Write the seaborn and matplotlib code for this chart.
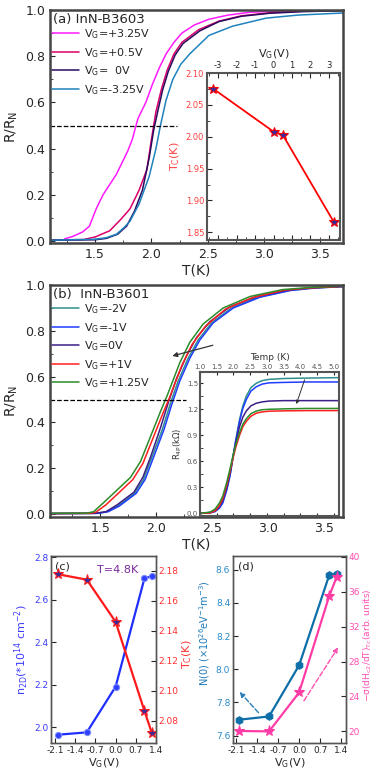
import matplotlib
matplotlib.use('Agg')
import matplotlib.pyplot as plt
import seaborn as sns
from matplotlib.ticker import MultipleLocator

sns.set_style('ticks')
plt.rcParams['font.family'] = ['DejaVu Sans']
plt.rcParams['mathtext.default'] = 'regular'
plt.rcParams['axes.unicode_minus'] = False

# ---- panel (a) InN-B3603, R/RN vs T
a_labels = ['V$_G$=+3.25V', 'V$_G$=+0.5V', 'V$_G$=  0V', 'V$_G$=-3.25V']
a_colors = ['#ff1aff', '#d8006a', '#2a0a5e', '#1f82bd']
a_T = [
    [1.23, 1.30, 1.39, 1.45, 1.51, 1.57, 1.69, 1.79, 1.83, 1.88, 1.95, 2.01, 2.07, 2.13, 2.20, 2.27, 2.38, 2.51, 2.68, 2.87, 3.10, 3.40, 3.70],
    [1.10, 1.40, 1.50, 1.63, 1.73, 1.81, 1.89, 1.96, 2.00, 2.04, 2.09, 2.14, 2.20, 2.27, 2.42, 2.60, 2.80, 3.05, 3.35, 3.70],
    [1.10, 1.50, 1.60, 1.70, 1.78, 1.85, 1.92, 1.98, 2.02, 2.06, 2.10, 2.15, 2.21, 2.28, 2.43, 2.60, 2.80, 3.05, 3.35, 3.70],
    [1.10, 1.50, 1.60, 1.69, 1.76, 1.81, 1.89, 1.98, 2.04, 2.08, 2.13, 2.19, 2.26, 2.34, 2.51, 2.72, 3.02, 3.30, 3.70],
]
a_R = [
    [0.01, 0.02, 0.04, 0.065, 0.14, 0.20, 0.29, 0.39, 0.44, 0.53, 0.60, 0.68, 0.75, 0.81, 0.86, 0.90, 0.935, 0.96, 0.978, 0.99, 0.995, 0.998, 1.0],
    [0.005, 0.007, 0.018, 0.045, 0.095, 0.14, 0.22, 0.31, 0.44, 0.56, 0.66, 0.74, 0.81, 0.86, 0.915, 0.952, 0.975, 0.988, 0.995, 0.998],
    [0.004, 0.006, 0.012, 0.03, 0.065, 0.13, 0.22, 0.36, 0.48, 0.57, 0.655, 0.735, 0.805, 0.855, 0.91, 0.95, 0.973, 0.986, 0.993, 0.997],
    [0.004, 0.008, 0.015, 0.03, 0.06, 0.087, 0.16, 0.28, 0.40, 0.50, 0.61, 0.70, 0.765, 0.81, 0.89, 0.93, 0.965, 0.978, 0.987],
]
# inset (a): Tc vs VG
ia_vg = [-3.25, 0.0, 0.5, 3.25]
ia_tc = [2.075, 2.008, 2.003, 1.867]

# ---- panel (b) InN-B3601
b_labels = ['V$_G$=-2V', 'V$_G$=-1V', 'V$_G$=0V', 'V$_G$=+1V', 'V$_G$=+1.25V']
b_colors = ['#2f8f8f', '#1f3cff', '#3d1f86', '#ff1f1f', '#2a8c2a']
b_T = [
    [1.05, 1.465, 1.555, 1.655, 1.805, 1.885, 1.955, 2.055, 2.125, 2.195, 2.285, 2.375, 2.495, 2.675, 2.915, 3.185, 3.405, 3.67],
    [1.05, 1.48, 1.57, 1.67, 1.82, 1.90, 1.97, 2.07, 2.14, 2.21, 2.30, 2.39, 2.51, 2.69, 2.93, 3.20, 3.42, 3.67],
    [1.05, 1.45, 1.55, 1.65, 1.80, 1.88, 1.95, 2.04, 2.11, 2.18, 2.27, 2.36, 2.48, 2.66, 2.90, 3.18, 3.40, 3.67],
    [1.05, 1.40, 1.46, 1.55, 1.67, 1.79, 1.88, 1.97, 2.06, 2.12, 2.23, 2.32, 2.44, 2.62, 2.86, 3.15, 3.40, 3.67],
    [1.05, 1.38, 1.44, 1.53, 1.65, 1.77, 1.86, 1.95, 2.04, 2.10, 2.21, 2.30, 2.42, 2.60, 2.84, 3.13, 3.40, 3.67],
]
b_R = [
    [0.002, 0.003, 0.01, 0.035, 0.09, 0.15, 0.24, 0.37, 0.48, 0.58, 0.68, 0.76, 0.835, 0.90, 0.947, 0.976, 0.987, 0.993],
    [0.002, 0.003, 0.01, 0.035, 0.09, 0.15, 0.24, 0.37, 0.48, 0.58, 0.68, 0.76, 0.835, 0.90, 0.947, 0.976, 0.987, 0.993],
    [0.002, 0.003, 0.01, 0.04, 0.095, 0.16, 0.25, 0.38, 0.49, 0.59, 0.69, 0.77, 0.84, 0.905, 0.95, 0.978, 0.988, 0.994],
    [0.002, 0.003, 0.008, 0.04, 0.095, 0.15, 0.22, 0.33, 0.44, 0.51, 0.65, 0.74, 0.82, 0.895, 0.945, 0.978, 0.988, 0.994],
    [0.003, 0.004, 0.01, 0.05, 0.105, 0.16, 0.23, 0.34, 0.45, 0.52, 0.66, 0.75, 0.83, 0.90, 0.95, 0.98, 0.99, 0.995],
]
# inset (b): R4P vs Temp
ib_T = [1.0, 1.30, 1.45, 1.58, 1.68, 1.80, 1.90, 1.97, 2.06, 2.18, 2.28, 2.38, 2.52, 2.68, 2.85, 3.06, 3.5, 4.2, 5.15]
ib_R = [
    [0.0, 0.01, 0.03, 0.07, 0.13, 0.28, 0.45, 0.62, 0.83, 1.08, 1.24, 1.35, 1.45, 1.50, 1.53, 1.545, 1.555, 1.56, 1.565],
    [0.0, 0.005, 0.02, 0.06, 0.12, 0.27, 0.44, 0.61, 0.82, 1.06, 1.21, 1.31, 1.41, 1.46, 1.49, 1.505, 1.51, 1.515, 1.515],
    [0.0, 0.01, 0.03, 0.08, 0.15, 0.30, 0.47, 0.62, 0.80, 1.00, 1.11, 1.18, 1.24, 1.27, 1.285, 1.295, 1.30, 1.30, 1.30],
    [0.0, 0.005, 0.03, 0.09, 0.17, 0.33, 0.49, 0.61, 0.75, 0.90, 1.00, 1.06, 1.12, 1.155, 1.17, 1.178, 1.182, 1.185, 1.185],
    [0.0, 0.015, 0.05, 0.12, 0.20, 0.36, 0.52, 0.64, 0.78, 0.93, 1.03, 1.09, 1.15, 1.18, 1.195, 1.20, 1.205, 1.21, 1.21],
]

# ---- panels (c), (d): vs gate voltage
vg = [-2.0, -1.0, 0.0, 1.0, 1.25]
n2d = [1.964, 1.975, 2.19, 2.70, 2.71]
tc = [2.1778, 2.1742, 2.146, 2.0864, 2.072]
n0 = [7.696, 7.716, 8.024, 8.566, 8.576]
slope = [20.05, 20.0, 24.46, 35.5, 37.7]
vg_ticks = [-2.1, -1.4, -0.7, 0.0, 0.7, 1.4]

W, H = 374, 773


def px_axes(l, t, r, b):
    return fig.add_axes([l / W, 1 - b / H, (r - l) / W, (b - t) / H])


def frame(ax, color='#454545', lw=1.8):
    for s in ax.spines.values():
        s.set_color(color)
        s.set_linewidth(lw)


fig = plt.figure(figsize=(W / 100, H / 100), dpi=100)

# ================= (a)
ax = px_axes(50, 10, 343, 243)
for T, R, c, lab in zip(a_T, a_R, a_colors, a_labels):
    sns.lineplot(x=T, y=R, ax=ax, color=c, lw=1.1, label=lab, sort=False, estimator=None)
ax.plot([1.1, 2.23], [0.5, 0.5], ls='--', color='black', lw=0.9)
ax.set_xlim(1.1, 3.7)
ax.set_ylim(-0.008, 1.0)
ax.xaxis.set_major_locator(MultipleLocator(0.5))
ax.xaxis.set_minor_locator(MultipleLocator(0.25))
ax.yaxis.set_major_locator(MultipleLocator(0.2))
ax.yaxis.set_minor_locator(MultipleLocator(0.1))
ax.tick_params(which='both', direction='in', labelsize=9)
ax.set_xlabel('T(K)', fontsize=10, labelpad=2)
ax.set_ylabel('R/R$_N$', fontsize=10, labelpad=4)
frame(ax)
ax.text(0.01, 0.985, '(a) InN-B3603', transform=ax.transAxes, fontsize=9.5, va='top')
ax.legend(loc='upper left', bbox_to_anchor=(0.0, 0.935), frameon=False, fontsize=8,
          handlelength=2.4, handletextpad=0.5, labelspacing=0.42, borderpad=0, borderaxespad=0.2)

axi = px_axes(207, 73, 340, 240)
sns.lineplot(x=ia_vg, y=ia_tc, ax=axi, color='red', lw=1.3, sort=False, estimator=None)
axi.plot(ia_vg, ia_tc, ls='none', marker='*', ms=7, mfc='#3b2a9a', mec='red', mew=0.8)
axi.set_xlim(-3.6, 3.6)
axi.set_ylim(1.838, 2.10)
axi.xaxis.set_major_locator(MultipleLocator(1))
axi.xaxis.set_minor_locator(MultipleLocator(0.5))
axi.yaxis.set_major_locator(MultipleLocator(0.05))
axi.yaxis.set_minor_locator(MultipleLocator(0.025))
axi.tick_params(which='both', direction='in', top=True, labeltop=True, bottom=True,
                labelbottom=False, labelsize=6, pad=2)
axi.tick_params(axis='y', labelcolor='#ff4040')
axi.xaxis.set_label_position('top')
axi.set_xlabel('V$_G$(V)', fontsize=8, labelpad=3)
axi.set_ylabel('T$_C$(K)', fontsize=8, color='#ff4040', labelpad=3)
frame(axi, '#555555', 1.5)

# ================= (b)
ax = px_axes(50, 285, 343, 517)
for T, R, c, lab in zip(b_T, b_R, b_colors, b_labels):
    sns.lineplot(x=T, y=R, ax=ax, color=c, lw=1.1, label=lab, sort=False, estimator=None)
ax.plot([1.05, 2.27], [0.5, 0.5], ls='--', color='black', lw=0.9)
ax.annotate('', xy=(2.12, 0.687), xytext=(2.53, 0.74),
            arrowprops=dict(arrowstyle='-|>', color='#333333', lw=0.9, mutation_scale=7))
ax.set_xlim(1.05, 3.67)
ax.set_ylim(-0.013, 1.0)
ax.xaxis.set_major_locator(MultipleLocator(0.5))
ax.xaxis.set_minor_locator(MultipleLocator(0.25))
ax.yaxis.set_major_locator(MultipleLocator(0.2))
ax.yaxis.set_minor_locator(MultipleLocator(0.1))
ax.tick_params(which='both', direction='in', labelsize=9)
ax.set_xlabel('T(K)', fontsize=10, labelpad=2)
ax.set_ylabel('R/R$_N$', fontsize=10, labelpad=4)
frame(ax)
ax.text(0.01, 0.985, '(b)  InN-B3601', transform=ax.transAxes, fontsize=9.5, va='top')
ax.legend(loc='upper left', bbox_to_anchor=(0.0, 0.935), frameon=False, fontsize=8,
          handlelength=2.4, handletextpad=0.5, labelspacing=0.42, borderpad=0, borderaxespad=0.2)

axi = px_axes(200, 372, 339, 516)
for R, c in zip(ib_R, b_colors):
    sns.lineplot(x=ib_T, y=R, ax=axi, color=c, lw=1.1, sort=False, estimator=None)
axi.annotate('', xy=(3.85, 1.23), xytext=(4.15, 1.57),
             arrowprops=dict(arrowstyle='-|>', color='#333333', lw=0.7, mutation_scale=5))
axi.set_xlim(1.0, 5.15)
axi.set_ylim(-0.03, 1.63)
axi.xaxis.set_major_locator(MultipleLocator(0.5))
axi.yaxis.set_major_locator(MultipleLocator(0.3))
axi.yaxis.set_minor_locator(MultipleLocator(0.15))
axi.tick_params(which='both', direction='in', top=True, labeltop=True, bottom=True,
                labelbottom=False, labelsize=5, pad=1.5, labelcolor='#555555', length=2.5)
axi.xaxis.set_label_position('top')
axi.set_xlabel('Temp (K)', fontsize=6.5, labelpad=3, color='#333333')
axi.set_ylabel('R$_{4P}$(k$\\Omega$)', fontsize=6, labelpad=2, color='#333333')
frame(axi, '#555555', 1.5)

# ================= (c)
ax = px_axes(51, 556, 156, 743)
sns.lineplot(x=vg, y=n2d, ax=ax, color='#1f2fff', lw=1.6, marker='o', ms=4.5,
             mfc='#3040ff', mec='#7f8fff', estimator=None)
ax.set_xlim(-2.24, 1.36)
ax.set_ylim(1.925, 2.805)
ax.set_xticks(vg_ticks)
ax.set_xticklabels(['-2.1', '-1.4', '-0.7', '0.0', '0.7', '1.4'])
ax.yaxis.set_major_locator(MultipleLocator(0.2))
ax.tick_params(which='both', direction='in', labelsize=6.5, pad=2)
ax.tick_params(axis='y', labelcolor='#3b3bff')
ax.set_xlabel('V$_G$(V)', fontsize=8, labelpad=1)
ax.set_ylabel('n$_{2D}$(*10$^{14}$ cm$^{-2}$)', fontsize=8, color='#3b3bff')
ax.yaxis.set_label_coords(-0.19, 0.5)
ax.text(0.04, 0.97, '(c)', transform=ax.transAxes, fontsize=8, va='top')
ax.text(0.63, 0.95, 'T=4.8K', transform=ax.transAxes, fontsize=8, va='top', ha='center', color='#7b2a98')
frame(ax, '#555555', 1.0)
ax2 = ax.twinx()
sns.lineplot(x=vg, y=tc, ax=ax2, color='#ff1a1a', lw=1.6, estimator=None)
ax2.plot(vg, tc, ls='none', marker='*', ms=8, mfc='#3b2a9a', mec='#ff2020', mew=0.8)
ax2.set_ylim(2.065, 2.19)
ax2.yaxis.set_major_locator(MultipleLocator(0.02))
ax2.tick_params(direction='in', labelsize=6.5, pad=2, labelcolor='#ff3030')
ax2.set_ylabel('T$_C$(K)', fontsize=8, color='#ff3030')
ax2.yaxis.set_label_coords(1.229, 0.476)
frame(ax2, '#555555', 1.0)

# ================= (d)
ax = px_axes(233, 556, 346, 743)
sns.lineplot(x=vg, y=n0, ax=ax, color='#0e6ea8', lw=1.6, marker='h', ms=5.5,
             mfc='#0e6ea8', mec='#0e6ea8', estimator=None)
ax.annotate('', xy=(-2.04, 7.876), xytext=(-1.29, 7.726),
            arrowprops=dict(arrowstyle='-|>', ls='--', color='#2a7fb8', lw=1.0, mutation_scale=7))
ax.annotate('', xy=(1.35, 8.146), xytext=(0.11, 7.796),
            arrowprops=dict(arrowstyle='-|>', ls='--', color='#ff4fb0', lw=1.0, mutation_scale=7))
ax.set_xlim(-2.2, 1.56)
ax.set_ylim(7.556, 8.682)
ax.set_xticks(vg_ticks)
ax.set_xticklabels(['-2.1', '-1.4', '-0.7', '0.0', '0.7', '1.4'])
ax.yaxis.set_major_locator(MultipleLocator(0.2))
ax.tick_params(which='both', direction='in', labelsize=6.5, pad=2)
ax.tick_params(axis='y', labelcolor='#2a8ac8')
ax.set_xlabel('V$_G$(V)', fontsize=8, labelpad=1)
ax.set_ylabel('N(0) (\u00d710$^{26}$eV$^{-1}$m$^{-3}$)', fontsize=7, color='#1a78b8')
ax.yaxis.set_label_coords(-0.19, 0.59)
ax.text(0.04, 0.97, '(d)', transform=ax.transAxes, fontsize=8, va='top')
frame(ax, '#555555', 1.0)
ax2 = ax.twinx()
sns.lineplot(x=vg, y=slope, ax=ax2, color='#ff3ca6', lw=1.6, marker='*', ms=8,
             mfc='#ff3ca6', mec='#ff3ca6', estimator=None)
ax2.set_ylim(18.67, 40.1)
ax2.yaxis.set_major_locator(MultipleLocator(4))
ax2.tick_params(direction='in', labelsize=6.5, pad=2, labelcolor='#ff4fb0')
ax2.set_ylabel('\u2212\u03c3(dH$_{c2}$/dT)$_{Tc}$(arb. units)', fontsize=6.5, color='#ff4fb0')
ax2.yaxis.set_label_coords(1.14, 0.52)
frame(ax2, '#555555', 1.0)

fig.savefig('out.png', dpi=100)
